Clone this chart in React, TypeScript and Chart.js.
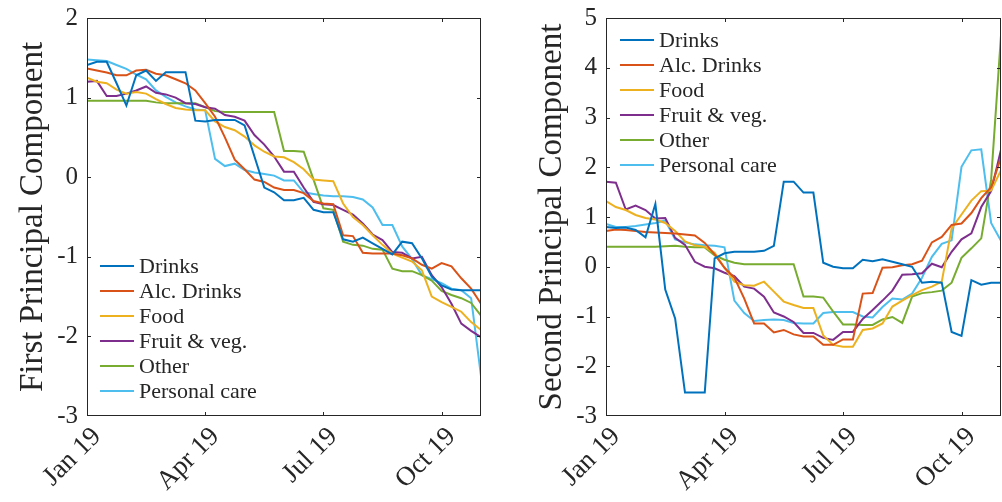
import React, { useEffect, useRef } from 'react';
import { Chart, registerables } from 'chart.js';

Chart.register(...registerables);

// Series names and MATLAB-style line colours
const categories = ['Drinks', 'Alc. Drinks', 'Food', 'Fruit & veg.', 'Other', 'Personal care'];
const seriesColors = ['#0072BD', '#D95319', '#EDB120', '#7E2F8E', '#77AC30', '#4DBEEE'];

// Time axis: four observations per month, week 0 = first week of January 2019
const tickWeeks = [0, 12, 24, 36];
const tickLabels = ['Jan 19', 'Apr 19', 'Jul 19', 'Oct 19'];
const lastWeek = 40;

// First principal component
const pc1Drinks = [1.41, 1.45, 1.45, 1.18, 0.90, 1.28, 1.34, 1.21, 1.32, 1.32, 1.32, 0.71, 0.70, 0.72, 0.72, 0.72, 0.65, 0.26, -0.13, -0.19, -0.29, -0.29, -0.26, -0.41, -0.44, -0.44, -0.78, -0.81, -0.76, -0.83, -0.90, -0.97, -0.81, -0.83, -1.02, -1.25, -1.36, -1.41, -1.42, -1.42, -1.42];
const pc1Alc = [1.365, 1.34, 1.315, 1.28, 1.28, 1.34, 1.35, 1.30, 1.28, 1.23, 1.18, 1.09, 0.93, 0.76, 0.50, 0.22, 0.10, -0.03, -0.06, -0.13, -0.16, -0.16, -0.20, -0.30, -0.33, -0.34, -0.73, -0.74, -0.95, -0.96, -0.96, -0.96, -0.98, -1.02, -1.10, -1.15, -1.08, -1.12, -1.27, -1.40, -1.59];
const pc1Food = [1.25, 1.20, 1.18, 1.10, 1.05, 1.07, 1.05, 0.98, 0.92, 0.87, 0.85, 0.84, 0.84, 0.70, 0.63, 0.59, 0.51, 0.40, 0.32, 0.26, 0.25, 0.19, 0.10, -0.03, -0.04, -0.05, -0.33, -0.50, -0.60, -0.73, -0.85, -0.96, -1.01, -1.06, -1.17, -1.50, -1.57, -1.63, -1.69, -1.82, -1.92];
const pc1Fruit = [1.20, 1.21, 1.02, 1.02, 1.05, 1.09, 1.14, 1.06, 1.04, 1.00, 0.93, 0.92, 0.88, 0.86, 0.78, 0.76, 0.71, 0.53, 0.41, 0.26, 0.07, 0.07, -0.13, -0.31, -0.34, -0.35, -0.41, -0.47, -0.58, -0.72, -0.79, -0.94, -0.95, -1.02, -1.00, -1.23, -1.38, -1.59, -1.84, -1.93, -2.01];
const pc1Other = [0.96, 0.96, 0.96, 0.96, 0.96, 0.96, 0.96, 0.94, 0.93, 0.93, 0.93, 0.93, 0.88, 0.83, 0.82, 0.82, 0.82, 0.82, 0.82, 0.82, 0.33, 0.33, 0.32, -0.03, -0.39, -0.41, -0.81, -0.85, -0.86, -0.90, -0.91, -1.15, -1.18, -1.18, -1.23, -1.30, -1.43, -1.48, -1.52, -1.58, -1.74];
const pc1Personal = [1.48, 1.47, 1.46, 1.41, 1.36, 1.29, 1.23, 1.09, 1.01, 0.94, 0.89, 0.85, 0.84, 0.23, 0.14, 0.17, 0.09, 0.06, 0.04, 0.02, -0.04, -0.04, -0.19, -0.21, -0.23, -0.24, -0.24, -0.25, -0.28, -0.38, -0.60, -0.60, -0.87, -1.03, -1.23, -1.28, -1.33, -1.40, -1.42, -1.52, -2.50];

// Second principal component
const pc2Drinks = [0.80, 0.78, 0.79, 0.74, 0.59, 1.26, -0.46, -1.04, -2.53, -2.53, -2.53, 0.17, 0.27, 0.30, 0.30, 0.30, 0.32, 0.42, 1.71, 1.71, 1.49, 1.49, 0.08, 0.00, -0.03, -0.03, 0.14, 0.11, 0.15, 0.10, 0.05, 0.00, -0.32, -0.30, -0.32, -1.31, -1.39, -0.27, -0.36, -0.32, -0.32];
const pc2Alc = [0.72, 0.75, 0.74, 0.72, 0.70, 0.69, 0.68, 0.67, 0.65, 0.63, 0.48, 0.25, -0.02, -0.22, -0.64, -1.14, -1.14, -1.32, -1.27, -1.36, -1.40, -1.40, -1.57, -1.57, -1.46, -1.46, -0.54, -0.53, -0.02, -0.01, 0.03, 0.05, 0.12, 0.49, 0.60, 0.84, 0.87, 1.08, 1.38, 1.60, 2.20];
const pc2Food = [1.32, 1.20, 1.14, 1.04, 0.98, 0.95, 0.88, 0.72, 0.51, 0.43, 0.40, 0.28, -0.02, -0.30, -0.37, -0.38, -0.30, -0.50, -0.70, -0.77, -0.83, -0.83, -1.38, -1.57, -1.61, -1.61, -1.27, -1.24, -1.14, -0.80, -0.68, -0.57, -0.47, -0.40, -0.30, 0.77, 1.05, 1.33, 1.52, 1.53, 1.94];
const pc2Fruit = [1.71, 1.69, 1.15, 1.23, 1.14, 0.97, 0.98, 0.58, 0.44, 0.10, 0.00, -0.03, -0.12, -0.19, -0.40, -0.44, -0.60, -0.92, -1.00, -1.11, -1.33, -1.33, -1.43, -1.47, -1.31, -1.31, -1.05, -0.87, -0.68, -0.48, -0.16, -0.15, -0.13, 0.06, -0.01, 0.30, 0.55, 0.67, 1.20, 1.52, 2.35];
const pc2Other = [0.40, 0.40, 0.40, 0.40, 0.40, 0.40, 0.41, 0.42, 0.40, 0.39, 0.39, 0.23, 0.14, 0.08, 0.05, 0.05, 0.05, 0.05, 0.05, 0.05, -0.60, -0.60, -0.62, -0.90, -1.16, -1.16, -1.17, -1.17, -1.06, -1.01, -1.13, -0.60, -0.53, -0.51, -0.48, -0.32, 0.18, 0.37, 0.57, 1.75, 4.65];
const pc2Personal = [0.86, 0.80, 0.80, 0.82, 0.85, 0.88, 0.93, 0.55, 0.49, 0.45, 0.43, 0.42, 0.39, -0.68, -0.93, -1.09, -1.07, -1.06, -1.07, -1.13, -1.14, -1.14, -0.93, -0.91, -0.91, -0.91, -1.00, -1.02, -0.81, -0.64, -0.66, -0.54, -0.22, 0.20, 0.46, 0.53, 2.01, 2.34, 2.36, 0.88, 0.52];

const pc1Series = [pc1Drinks, pc1Alc, pc1Food, pc1Fruit, pc1Other, pc1Personal];
const pc2Series = [pc2Drinks, pc2Alc, pc2Food, pc2Fruit, pc2Other, pc2Personal];

const SERIF = '"Liberation Serif", "Times New Roman", serif';
const INK = '#262626';

interface PanelSpec {
  title: string;
  series: number[][];
  yMin: number;
  yMax: number;
  width: number;
  axisWidth: number;   // space reserved left of the plot box
  padRight: number;
  titleBaseline: number; // x of the rotated title's baseline
  legendDx: number;    // legend sample start, from plot box left
  legendDy: number;    // first legend row, from plot box top
}

// Draws the axes box, inward tick marks, the rotated y title and the in-plot legend
function makeFramePlugin(spec: PanelSpec) {
  return {
    id: 'matlabFrame',
    afterDatasetsDraw(chart: any) {
      const { ctx, chartArea: a, scales } = chart;
      const xs = scales.x;
      const ys = scales.y;
      ctx.save();

      // box
      ctx.strokeStyle = INK;
      ctx.lineWidth = 1;
      ctx.strokeRect(Math.round(a.left) + 0.5, Math.round(a.top) + 0.5,
        Math.round(a.right - a.left) - 1, Math.round(a.bottom - a.top) - 1);

      // inward ticks
      const tl = 4;
      ctx.beginPath();
      ys.ticks.forEach((t: any) => {
        if (t.value <= spec.yMin || t.value >= spec.yMax) return;
        const y = Math.round(ys.getPixelForValue(t.value)) + 0.5;
        ctx.moveTo(a.left, y); ctx.lineTo(a.left + tl, y);
        ctx.moveTo(a.right, y); ctx.lineTo(a.right - tl, y);
      });
      tickWeeks.forEach((w) => {
        if (w <= 0 || w >= lastWeek) return;
        const x = Math.round(xs.getPixelForValue(w)) + 0.5;
        ctx.moveTo(x, a.bottom); ctx.lineTo(x, a.bottom - tl);
        ctx.moveTo(x, a.top); ctx.lineTo(x, a.top + tl);
      });
      ctx.stroke();

      // y-axis title
      ctx.fillStyle = INK;
      ctx.font = `33px ${SERIF}`;
      ctx.textAlign = 'center';
      ctx.textBaseline = 'alphabetic';
      ctx.translate(spec.titleBaseline, (a.top + a.bottom) / 2);
      ctx.rotate(-Math.PI / 2);
      ctx.fillText(spec.title, 0, 0);
      ctx.setTransform(1, 0, 0, 1, 0, 0);

      // legend
      ctx.font = `22px ${SERIF}`;
      ctx.textAlign = 'left';
      ctx.lineWidth = 2;
      categories.forEach((name, i) => {
        const y = a.top + spec.legendDy + i * 25;
        const x0 = a.left + spec.legendDx;
        ctx.strokeStyle = seriesColors[i];
        ctx.beginPath();
        ctx.moveTo(x0, y);
        ctx.lineTo(x0 + 34, y);
        ctx.stroke();
        ctx.fillStyle = INK;
        ctx.fillText(name, x0 + 39, y + 7);
      });
      ctx.restore();
    },
  };
}

function Panel({ spec }: { spec: PanelSpec }) {
  const ref = useRef<HTMLCanvasElement | null>(null);

  useEffect(() => {
    if (!ref.current) return;
    const datasets = spec.series.map((values, i) => ({
      label: categories[i],
      data: values.map((v, w) => ({ x: w, y: v })),
      borderColor: seriesColors[i],
      backgroundColor: seriesColors[i],
      borderWidth: 2,
      pointRadius: 0,
      tension: 0,
      fill: false,
    }));
    const chart = new Chart(ref.current, {
      type: 'line',
      data: { datasets },
      options: {
        responsive: false,
        animation: false,
        events: [],
        layout: { padding: { left: 0, right: spec.padRight, top: 18, bottom: 0 } },
        plugins: { legend: { display: false }, tooltip: { enabled: false } },
        scales: {
          x: {
            type: 'linear',
            min: 0,
            max: lastWeek,
            grid: { display: false, drawTicks: false },
            border: { display: false },
            afterBuildTicks: (s: any) => { s.ticks = tickWeeks.map((v) => ({ value: v })); },
            afterFit: (s: any) => {
              s.height = 86;
              s.paddingLeft = 0;
              s.paddingRight = 0;
            },
            ticks: {
              autoSkip: false,
              minRotation: 45,
              maxRotation: 45,
              padding: 5,
              labelOffset: 10,
              color: INK,
              font: { family: SERIF, size: 27 },
              callback: (v: any) => {
                const k = tickWeeks.indexOf(Number(v));
                return k >= 0 ? tickLabels[k] : '';
              },
            },
          },
          y: {
            min: spec.yMin,
            max: spec.yMax,
            grid: { display: false, drawTicks: false },
            border: { display: false },
            afterFit: (s: any) => {
              s.width = spec.axisWidth;
              s.paddingTop = 0;
              s.paddingBottom = 0;
            },
            ticks: {
              stepSize: 1,
              padding: 9,
              color: INK,
              font: { family: SERIF, size: 25 },
            },
          },
        },
      },
      plugins: [makeFramePlugin(spec)],
    });
    return () => chart.destroy();
  }, [spec]);

  return <canvas ref={ref} width={spec.width} height={502} style={{ display: 'block' }} />;
}

const leftSpec: PanelSpec = {
  title: 'First Principal Component',
  series: pc1Series,
  yMin: -3,
  yMax: 2,
  width: 500,
  axisWidth: 87,
  padRight: 19,
  titleBaseline: 42,
  legendDx: 13,
  legendDy: 248,
};

const rightSpec: PanelSpec = {
  title: 'Second Principal Component',
  series: pc2Series,
  yMin: -3,
  yMax: 5,
  width: 502,
  axisWidth: 106,
  padRight: 1,
  titleBaseline: 61,
  legendDx: 14,
  legendDy: 22,
};

export default function App() {
  return (
    <div style={{ position: 'fixed', left: 0, top: 0, width: 1002, height: 502, background: '#fff', display: 'flex' }}>
      <Panel spec={leftSpec} />
      <Panel spec={rightSpec} />
    </div>
  );
}
